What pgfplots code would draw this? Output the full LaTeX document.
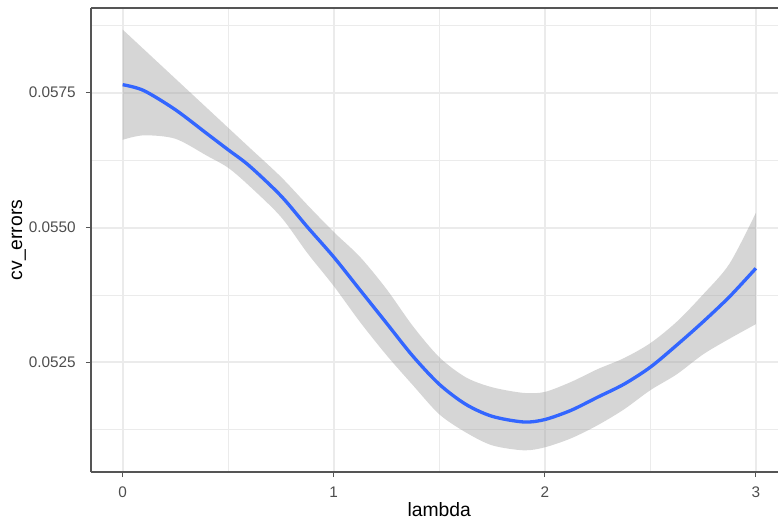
\documentclass[border=0pt]{standalone}
\usepackage{fontspec}
\setmainfont{Liberation Sans}
\usepackage{pgfplots}
\pgfplotsset{compat=1.18}
\usepgfplotslibrary{fillbetween}

\definecolor{gridcol}{HTML}{EBEBEB}
\definecolor{ticktext}{HTML}{4D4D4D}
\definecolor{framecol}{HTML}{555555}
\definecolor{fitblue}{HTML}{3366FF}
\definecolor{ribbon}{HTML}{999999}

\begin{document}
\begin{tikzpicture}
\begin{axis}[
  scale only axis,
  width=515.25pt, height=348pt,
  xmin=-0.15, xmax=3.105,
  ymin=0.05047, ymax=0.05907,
  axis x line=box, axis y line=left,
  axis line style={-, framecol, line width=0.8pt},
  xtick pos=bottom, ytick pos=left,
  tick align=outside,
  major tick length=3.75pt,
  minor tick length=0pt,
  tick style={color=framecol, line width=0.8pt},
  scaled y ticks=false, scaled x ticks=false,
  xtick={0,1,2,3}, xticklabels={0,1,2,3},
  ytick={0.0525,0.055,0.0575}, yticklabels={0.0525,0.0550,0.0575},
  minor xtick={0.5,1.5,2.5},
  minor ytick={0.05125,0.05375,0.05625,0.05875},
  grid=both,
  major grid style={gridcol, line width=1.5pt},
  minor grid style={gridcol, line width=0.75pt},
  tick label style={font=\fontsize{11.5}{13}\selectfont, text=ticktext, inner sep=0pt},
  xticklabel style={anchor=north, yshift=-7.1pt},
  yticklabel style={anchor=east, xshift=-7.5pt},
  xlabel={lambda},
  ylabel={cv\_errors},
  every axis x label/.style={at={(axis description cs:0.5069,-0.0963)}, anchor=base,
    font=\fontsize{14.5}{17}\selectfont, text=black},
  every axis y label/.style={at={(axis description cs:-0.1004,0.5)}, rotate=90, anchor=base,
    font=\fontsize{14.5}{17}\selectfont, text=black},
]
% confidence band
\addplot[name path=up, draw=none, smooth, forget plot] coordinates {
 (0,0.058670) (0.1,0.058306) (0.25,0.057760) (0.4,0.057214) (0.5,0.056850)
 (0.6,0.056486) (0.75,0.055940) (0.875,0.055421) (1.0,0.054919) (1.125,0.054455)
 (1.25,0.053861) (1.375,0.053174) (1.5,0.052598) (1.625,0.052227) (1.75,0.052041)
 (1.9,0.051936) (2.0,0.051954) (2.125,0.052140) (2.25,0.052376) (2.375,0.052580)
 (2.5,0.052858) (2.625,0.053254) (2.75,0.053760) (2.875,0.054330) (3.0,0.055272)};
\addplot[name path=lo, draw=none, smooth, forget plot] coordinates {
 (0,0.056627) (0.1,0.056710) (0.25,0.056646) (0.4,0.056330) (0.5,0.056108)
 (0.6,0.055773) (0.75,0.055198) (0.875,0.054529) (1.0,0.053917) (1.125,0.053248)
 (1.25,0.052636) (1.375,0.052079) (1.5,0.051540) (1.625,0.051206) (1.75,0.050965)
 (1.9,0.050872) (2.0,0.050927) (2.125,0.051095) (2.25,0.051336) (2.375,0.051630)
 (2.5,0.051986) (2.625,0.052280) (2.75,0.052650) (2.875,0.052940) (3.0,0.053210)};
\addplot[fill=ribbon, fill opacity=0.4, draw=none, forget plot] fill between[of=up and lo];
% fitted curve
\addplot[fitblue, line width=2.5pt, smooth, line join=round] coordinates {
 (0,0.057649) (0.1,0.057540) (0.25,0.057184) (0.4,0.056739) (0.5,0.056442)
 (0.6,0.056145) (0.75,0.055588) (0.875,0.055012) (1.0,0.054455) (1.125,0.053842)
 (1.25,0.053230) (1.375,0.052617) (1.5,0.052097) (1.625,0.051726) (1.75,0.051503)
 (1.9,0.051397) (2.0,0.051442) (2.125,0.051614) (2.25,0.051856) (2.375,0.052097)
 (2.5,0.052413) (2.625,0.052821) (2.75,0.053254) (2.875,0.053718) (3.0,0.054245)};
\end{axis}
\pgfresetboundingbox
\path ([xshift=-68.25pt,yshift=-39.75pt]current axis.south west) rectangle ([yshift=6pt]current axis.north east);
\end{tikzpicture}
\end{document}
